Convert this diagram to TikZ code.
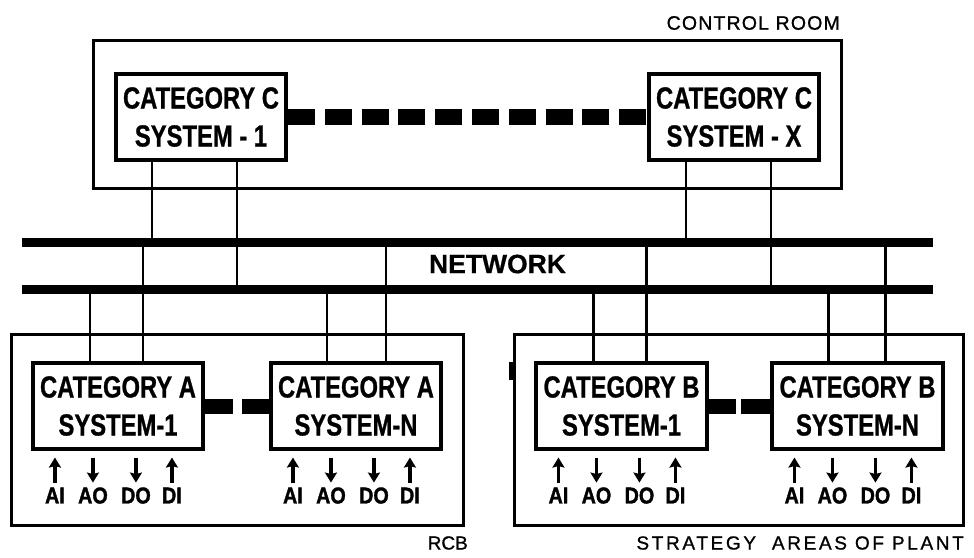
\documentclass[tikz,border=0pt]{standalone}
\usepackage{fontspec}
\setmainfont{Liberation Sans}
\newfontfamily\boxfont{Liberation Sans}[FakeStretch=0.78, BoldFeatures={FakeBold=0.8}]
\newfontfamily\sigfont{Liberation Sans}[FakeStretch=0.86, BoldFeatures={FakeBold=1.4}]
\newfontfamily\netfont{Liberation Sans}[BoldFeatures={FakeBold=0.6}]
\newfontfamily\spacedfont{Liberation Sans}[LetterSpace=14, FakeBold=1]
\newfontfamily\roomfont{Liberation Sans}[LetterSpace=6, FakeBold=1]
\newfontfamily\plainfont{Liberation Sans}[FakeBold=1]
\usetikzlibrary{arrows.meta}

\begin{document}
\begin{tikzpicture}[x=1pt,y=-1pt,
  sysbox/.style={draw, line width=3.6pt, minimum width=170.5pt, minimum height=85.5pt,
    inner sep=0pt, align=center, font=\boxfont\bfseries\fontsize{30.5}{38}\selectfont},
  areabox/.style={draw, line width=2.7pt, inner sep=0pt},
  bus/.style={line width=9pt},
  link/.style={line width=2.2pt},
  tie/.style={line width=16pt},
  sig/.style={line width=3.2pt, -{Stealth[length=10pt,width=12pt,inset=1.5pt]}},
  siglabel/.style={inner sep=0pt, font=\sigfont\bfseries\fontsize{23}{23}\selectfont},
  caption/.style={inner sep=0pt, anchor=east}]
\useasboundingbox (0,0) rectangle (974,557);

% enclosing areas
\node[areabox, minimum width=748.3pt, minimum height=148.3pt] (room) at (467.5,114.5) {};
\node[areabox, minimum width=452.3pt, minimum height=191.3pt] (rcb) at (237.5,430) {};
\node[areabox, minimum width=449.3pt, minimum height=191.3pt] (plant) at (739,430) {};
\draw[line width=4.5pt] (511,362) -- (511,380);

\node[caption, font=\roomfont\fontsize{19.5}{20}\selectfont] (roomlbl) at (840,23) {CONTROL ROOM};
\node[caption, font=\plainfont\fontsize{19}{20}\selectfont] (rcblbl) at (468,543) {RCB};
\node[caption, font=\spacedfont\fontsize{19}{20}\selectfont] (plantlbl) at (964,543) {STRATEGY\ \ AREAS OF PLANT};

% systems
\node[sysbox] (c1) at (201,117) {CATEGORY C\\SYSTEM - 1};
\node[sysbox] (cx) at (734,117) {CATEGORY C\\SYSTEM - X};
\node[sysbox] (a1) at (118,406) {CATEGORY A\\SYSTEM-1};
\node[sysbox] (an) at (356,406) {CATEGORY A\\SYSTEM-N};
\node[sysbox] (b1) at (621.5,406) {CATEGORY B\\SYSTEM-1};
\node[sysbox] (bn) at (857.5,406) {CATEGORY B\\SYSTEM-N};

% network buses
\coordinate (busA-w) at (22,242);
\coordinate (busA-e) at (933,242);
\coordinate (busB-w) at (22,289);
\coordinate (busB-e) at (933,289);
\node[inner sep=0pt, font=\netfont\bfseries\fontsize{26.5}{26}\selectfont] (net) at (497.5,264) {NETWORK};

% drops from the control room systems
\foreach \s/\dx/\b in {c1/38/busA, c1/123/busB, cx/39/busA, cx/124/busB}{
  \coordinate (\s-\dx) at ([xshift=\dx pt]\s.south west);
  \draw[link] (\s-\dx) -- (\s-\dx |- \b-w);
}
% drops from the plant systems
\foreach \s/\dx/\b in {a1/59/busB, a1/112/busA, an/58/busB, an/117/busA,
                       b1/59/busB, b1/112/busA, bn/58/busB, bn/115/busA}{
  \coordinate (\s-\dx) at ([xshift=\dx pt]\s.north west);
  \draw[link] (\s-\dx) -- (\s-\dx |- \b-w);
}

\draw[bus] (busA-w) -- (busA-e);
\draw[bus] (busB-w) -- (busB-e);

% links between systems of one category
\draw[tie, dash pattern=on 27pt off 9.8pt] (c1.east) -- (cx.west);
\draw[line width=15pt] (a1.east) -- ++(28,0);
\draw[line width=15pt] (an.west) -- ++(-27,0);
\draw[line width=15pt] (b1.east) -- ++(27,0);
\draw[line width=15pt] (bn.west) -- ++(-29,0);

% field signals
\foreach \s in {a1,an,b1,bn}{
  \foreach \dx/\t/\dir in {24/AI/1, 62/AO/-1, 105/DO/-1, 141/DI/1}{
    \coordinate (\s-\t-p) at ([xshift=\dx pt, yshift=-7pt]\s.south west);
    \coordinate (\s-\t-q) at ([xshift=\dx pt, yshift=-32pt]\s.south west);
    \node[siglabel] (\s-\t) at ([xshift=\dx pt, yshift=-45pt]\s.south west) {\t};
    \ifnum\dir=1
      \draw[sig] (\s-\t-q) -- (\s-\t-p);
    \else
      \draw[sig] (\s-\t-p) -- (\s-\t-q);
    \fi
  }
}
\end{tikzpicture}
\end{document}
